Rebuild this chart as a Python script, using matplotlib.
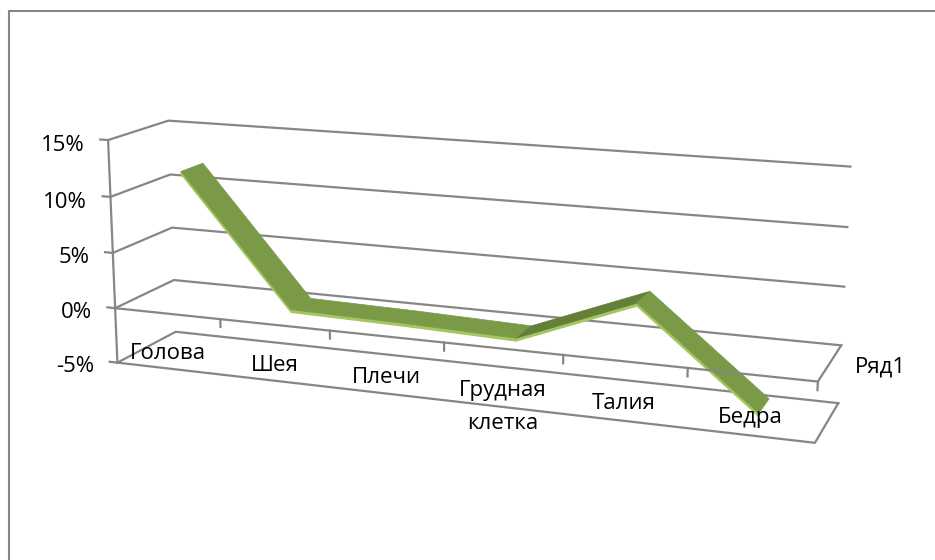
import numpy as np
import matplotlib
matplotlib.use("Agg")
import matplotlib.pyplot as plt
from mpl_toolkits.mplot3d.art3d import Poly3DCollection

plt.rcParams["font.family"] = ["Open Sans", "DejaVu Sans"]

# ── data ──────────────────────────────────────────────────────────
categories = ["Голова", "Шея", "Плечи", "Грудная\nклетка", "Талия", "Бедра"]
values = [0.12, 0.005, 0.003, 0.0, 0.04, -0.042]
value_ticks = [-0.05, 0.0, 0.05, 0.10, 0.15]
value_labels = ["-5%", "0%", "5%", "10%", "15%"]
series_name = "Ряд1"

GRID = "#868686"
TOP = "#7B9A47"
DARK = "#647F37"
LIGHT = "#A4C560"

W, H = 935, 560
fig = plt.figure(figsize=(W / 100, H / 100), dpi=100)
# 3D view tuned to look like Excel's default 3-D line chart
ax = fig.add_axes([0.08365, -0.17433, 0.80893, 1.35062], projection="3d",
                  computed_zorder=False)
ax.set_proj_type("persp", focal_length=0.477)
ax.view_init(elev=13.91, azim=-69.96, roll=-0.17)
ax.set_box_aspect((6, 1.044, 1.938))

n = len(categories)
zmin, zmax = value_ticks[0], value_ticks[-1]
ax.set_xlim(0, n)
ax.set_ylim(0, 1)
ax.set_zlim(zmin, zmax)
ax.set_axis_off()

lw = 1.6
kw = dict(color=GRID, lw=lw, clip_on=False)

# walls: side + back gridlines, value axis with ticks
for z in value_ticks:
    ax.plot([0, 0, n], [0, 1, 1], [z, z, z], zorder=1, **kw)
    ax.plot([-0.075, 0], [0, 0], [z, z], zorder=1, **kw)
ax.plot([0, 0], [0, 0], [zmin, zmax], zorder=1, **kw)

# lower floor outline
ax.plot([0, n, n], [0, 0, 1], [zmin, zmin, zmin], zorder=1, **kw)

# zero plane: category axis + ticks (drawn over the ribbon)
ax.plot([0, n, n], [0, 0, 1], [0, 0, 0], zorder=5, **kw)
for i in range(1, n + 1):
    ax.plot([i, i], [0, 0], [0, -0.007], zorder=5, **kw)

for z, lab in zip(value_ticks, value_labels):
    ax.text(-0.23, 0, z - 0.0065, lab, ha="right", va="center", fontsize=16,
            color="black", zorder=6)

xpos = np.arange(n) + 0.5
for x, lab in zip(xpos, categories):
    ax.text(x, 0, -0.0265, lab, ha="center", va="top", fontsize=16, color="black",
            zorder=6, linespacing=1.75)
ax.text(n + 0.2, 0.45, 0, series_name, ha="left", va="center", fontsize=16,
        color="black", zorder=6)

# ribbon
y0, y1, thick = 0.31, 0.69, 0.0025
tops, fronts, tcol = [], [], []
for i in range(n - 1):
    xa, xb = xpos[i], xpos[i + 1]
    za, zb = values[i], values[i + 1]
    tops.append([(xa, y0, za), (xb, y0, zb), (xb, y1, zb), (xa, y1, za)])
    fronts.append([(xa, y0, za), (xb, y0, zb), (xb, y0, zb - thick), (xa, y0, za - thick)])
    tcol.append(DARK if zb > za + 0.005 else TOP)

front_pc = Poly3DCollection(fronts, facecolors=LIGHT, edgecolors=LIGHT,
                            linewidths=0.8, zorder=3)
top_pc = Poly3DCollection(tops, facecolors=tcol, edgecolors=tcol,
                          linewidths=0.5, zorder=4)
for pc in (front_pc, top_pc):
    pc.set_clip_on(False)
    ax.add_collection3d(pc)

# chart area frame
fig.add_artist(plt.Line2D([8.5 / W, 8.5 / W, 1.01], [-0.01, 1 - 10.5 / H, 1 - 10.5 / H],
                          transform=fig.transFigure, color=GRID, lw=1.5))

fig.savefig("out.png", dpi=100)
